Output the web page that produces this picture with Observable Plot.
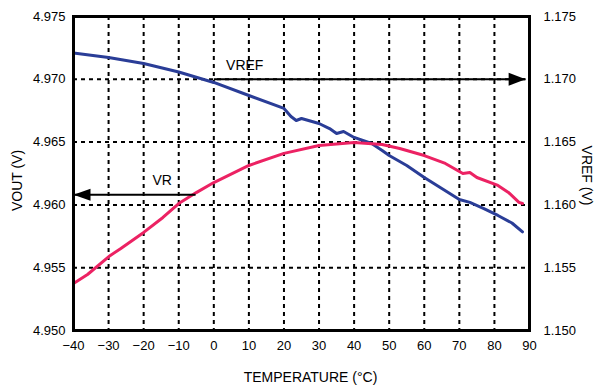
<!DOCTYPE html>
<html>
<head>
<meta charset="utf-8">
<script src="https://cdn.jsdelivr.net/npm/d3@7"></script>
<script src="https://cdn.jsdelivr.net/npm/@observablehq/plot@0.6"></script>
<style>
  html, body { margin: 0; padding: 0; background: #fff; }
  #chart svg { display: block; }
</style>
</head>
<body>
<div id="chart"></div>
<script>
// Temperature axis ticks (°C)
const xTicks = [-40, -30, -20, -10, 0, 10, 20, 30, 40, 50, 60, 70, 80, 90];
// Left axis VOUT ticks (V)
const voutTicks = [4.950, 4.955, 4.960, 4.965, 4.970, 4.975];
// Right axis VREF ticks (V)
const vrefTicks = [1.150, 1.155, 1.160, 1.165, 1.170, 1.175];

// VOUT series (left axis)
const voutT = [-40, -30, -20, -10, 0, 10, 20, 22, 23.5, 25, 30, 33, 35, 37, 40, 45, 48, 50, 55, 60, 65, 70, 73, 77, 81, 85, 88];
const voutV = [4.9721, 4.97174, 4.97126, 4.97058, 4.96975, 4.96871, 4.96768, 4.96704, 4.96672, 4.96688, 4.96648, 4.96608, 4.96568, 4.96584, 4.96537, 4.96489, 4.96433, 4.96393, 4.96314, 4.96218, 4.96131, 4.96043, 4.9602, 4.95971, 4.95916, 4.95856, 4.95785];

// VREF series (right axis)
const vrefT = [-40, -36, -29.5, -26.5, -20, -14.5, -10, -5, 0, 10, 20, 30, 40, 44, 48, 53, 60, 66, 71, 73, 75, 81, 84, 87, 88];
const vrefV = [1.15375, 1.15446, 1.15598, 1.15653, 1.15781, 1.159, 1.16011, 1.16098, 1.16178, 1.16314, 1.1641, 1.16473, 1.16497, 1.16489, 1.16481, 1.16449, 1.16393, 1.1633, 1.1625, 1.16258, 1.16218, 1.16155, 1.16099, 1.1602, 1.16011];

// Offset between right axis (VREF) and left axis (VOUT) scales
const axisOffset = 3.8;

// Annotation arrows (in VOUT-axis units)
const arrowLabels = ["VREF", "VR"];
const arrowFromT = [0, -5.2];
const arrowToT = [88.9, -40];
const arrowV = [4.970, 4.9608];
const arrowLabelT = [3.5, -17.5];
const arrowLabelV = [4.9711, 4.96195];

const headRight = { draw(ctx) { ctx.moveTo(0, 0); ctx.lineTo(-17, -6.5); ctx.lineTo(-17, 6.5); ctx.closePath(); } };
const headLeft = { draw(ctx) { ctx.moveTo(0, 0); ctx.lineTo(17, -6); ctx.lineTo(17, 6); ctx.closePath(); } };

const idx = arrowLabels.map((_, i) => i);
const innerX = xTicks.slice(1, -1);
const innerY = voutTicks.slice(1, -1);

const chart = Plot.plot({
  width: 594,
  height: 388,
  marginLeft: 73,
  marginRight: 65,
  marginTop: 16,
  marginBottom: 58,
  x: { domain: [-40, 90] },
  y: { domain: [4.950, 4.975] },
  style: { fontFamily: "'Liberation Sans', Arial, Helvetica, sans-serif", fontSize: "13px", color: "#000", background: "#fff" },
  marks: [
    Plot.gridX(innerX, { stroke: "#000", strokeOpacity: 1, strokeWidth: 2, strokeDasharray: "4,4" }),
    Plot.gridY(innerY, { stroke: "#000", strokeOpacity: 1, strokeWidth: 2, strokeDasharray: "4,4" }),
    Plot.line(voutV, { x: voutT, y: voutV, stroke: "#2a3d97", strokeWidth: 3 }),
    Plot.line(vrefV, { x: vrefT, y: vrefV.map(v => v + axisOffset), stroke: "#ec2263", strokeWidth: 3 }),
    Plot.link(idx, { x1: i => arrowFromT[i], x2: i => arrowToT[i], y1: i => arrowV[i], y2: i => arrowV[i], stroke: "#000", strokeWidth: 2 }),
    Plot.dot([0], { x: () => arrowToT[0], y: () => arrowV[0], symbol: headRight, fill: "#000", stroke: "none" }),
    Plot.dot([1], { x: () => arrowToT[1], y: () => arrowV[1], symbol: headLeft, fill: "#000", stroke: "none" }),
    Plot.text(idx, { x: i => arrowLabelT[i], y: i => arrowLabelV[i], text: i => arrowLabels[i], textAnchor: "start", fontSize: 14, fill: "#000" }),
    Plot.frame({ stroke: "#000", strokeWidth: 3 }),
    Plot.axisX({ ticks: xTicks, tickSize: 0, tickPadding: 10, label: null, fontSize: 13 }),
    Plot.axisY({ anchor: "left", ticks: voutTicks, tickSize: 0, tickPadding: 8, tickFormat: d3.format(".3f"), label: null, fontSize: 13 }),
    Plot.axisY({ anchor: "right", ticks: voutTicks, tickSize: 0, tickPadding: 14, tickFormat: d => (d - axisOffset).toFixed(3), label: null, fontSize: 13 }),
    Plot.text(["TEMPERATURE (°C)"], { text: d => d, frameAnchor: "bottom", textAnchor: "middle", lineAnchor: "middle", dy: 47, dx: 9, fontSize: 14 }),
    Plot.text(["VOUT (V)"], { text: d => d, frameAnchor: "left", textAnchor: "middle", lineAnchor: "middle", rotate: -90, dx: -56, dy: 7, fontSize: 14 }),
    Plot.text(["VREF (V)"], { text: d => d, frameAnchor: "right", textAnchor: "middle", lineAnchor: "middle", rotate: 90, dx: 57, dy: 2, fontSize: 14 })
  ]
});
document.getElementById("chart").appendChild(chart);
</script>
</body>
</html>
